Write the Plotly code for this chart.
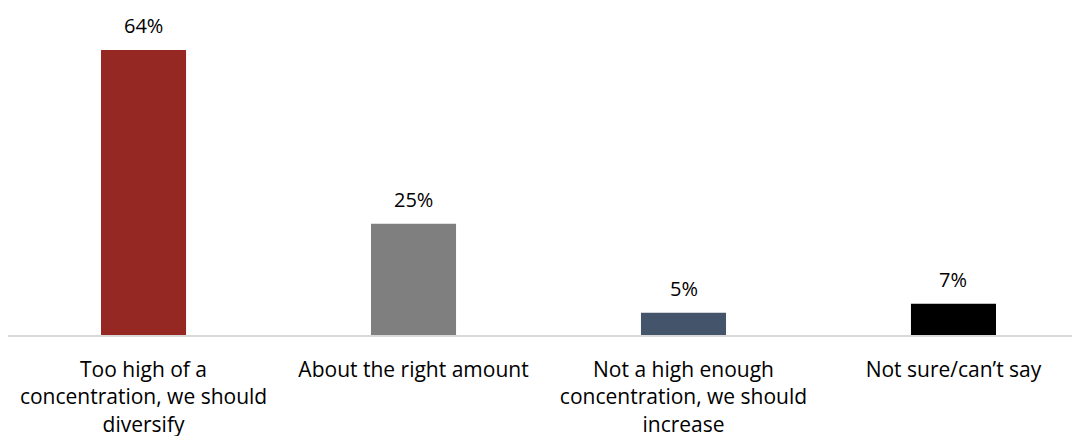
import plotly.graph_objects as go

categories = ["Too high of a<br>concentration, we should<br>diversify",
              "About the right amount",
              "Not a high enough<br>concentration, we should<br>increase",
              "Not sure/can’t say"]
values = [64, 25, 5, 7]
labels = ["64%", "25%", "5%", "7%"]
colors = ["#952823", "#7F7F7F", "#44546A", "#000000"]

xs = list(range(len(categories)))
font_family = "Open Sans"

fig = go.Figure()
fig.add_trace(go.Bar(x=xs, y=values, marker=dict(color=colors, line=dict(width=0)),
                     width=0.315, hoverinfo="skip"))

for x, v, t in zip(xs, values, labels):
    fig.add_annotation(x=x, y=v, text=t, showarrow=False, yshift=24,
                       font=dict(size=20, color="#000000", family=font_family))

fig.update_layout(
    width=1074, height=436,
    margin=dict(l=8, r=2, t=0, b=101, autoexpand=False),
    plot_bgcolor="white", paper_bgcolor="white",
    showlegend=False,
    font=dict(family=font_family, size=21, color="#000000"),
    xaxis=dict(range=[-0.502, 3.439], tickmode="array", tickvals=xs, ticktext=categories,
               showline=True, linecolor="#D9D9D9", linewidth=1.5, showgrid=False,
               zeroline=False, ticks="", ticklabelstandoff=15, automargin=False,
               tickfont=dict(size=21, family=font_family, color="#000000")),
    yaxis=dict(range=[0, 75.2], visible=False, showgrid=False, zeroline=False,
               automargin=False),
)

fig.write_html("out.html", config={"displayModeBar": False},
               post_script="document.body.style.margin='0';")
